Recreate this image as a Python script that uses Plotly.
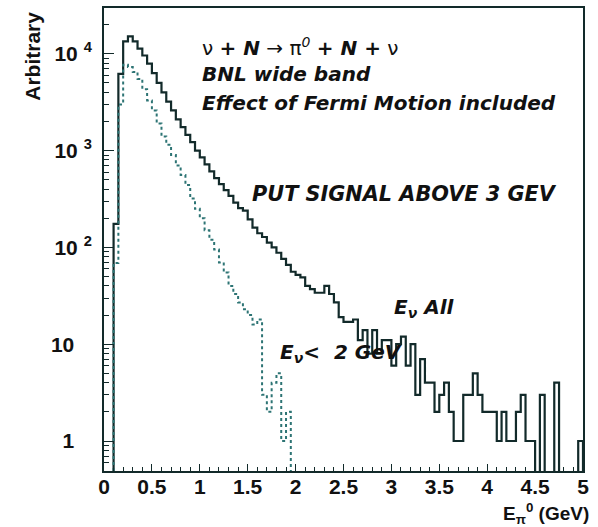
import numpy as np
import plotly.graph_objects as go

# Histogram binning (GeV): 0.05 GeV bins starting at 0.10 GeV
BIN_WIDTH = 0.05
FIRST_EDGE = 0.10

# Entries per bin, all neutrino energies
counts_all = [
    175, 6200, 13400, 15100, 13400, 11300, 9600, 7900, 6300, 5000,
    4000, 3200, 2600, 2100, 1750, 1450, 1220, 1000, 850, 720,
    610, 520, 450, 390, 340, 290, 255, 240, 195, 160,
    140, 128, 112, 100, 88, 76, 66, 56, 52, 49,
    40, 37, 34, 34, 40, 33, 27, 19, 17, 17,
    18, 11, 14, 8, 14, 8, 11, 11, 6, 10,
    12, 6, 10, 3, 7, 4, 4, 2, 3, 4,
    2, 1, 1, 3, 3, 5, 3, 2, 2, 2,
    1, 2, 1, 1, 2, 3, 1, 1, 0, 3,
    0, 0, 4, 0, 0, 0, 0, 1,
]

# Entries per bin, neutrino energy below 2 GeV
counts_low = [
    69, 3000, 7700, 7300, 6500, 5500, 4300, 3300, 2600, 1900,
    1400, 1150, 900, 700, 560, 440, 320, 250, 200, 150,
    120, 95, 70, 55, 40, 33, 27, 23, 20, 16,
    18, 3, 2, 4, 5, 1, 2,
]

x_tick_values = [0, 0.5, 1, 1.5, 2, 2.5, 3, 3.5, 4, 4.5, 5]
x_tick_labels = ["0", "0.5", "1", "1.5", "2", "2.5", "3", "3.5", "4", "4.5", "5"]
y_tick_values = [1, 10, 100, 1000, 10000]
NB = "\u00a0"
y_tick_labels = ["1" + NB * 3, "10" + NB * 3, "10 <sup>2</sup>", "10 <sup>3</sup>", "10 <sup>4</sup>"]

# Drawing constants
BASE = 0.05          # level used for empty bins (below the visible range)
INK = "#122a2a"
DOT_INK = "#2d7474"
W, H = 598, 527
ML, MR, MT, MB = 104, 15, 6, 56


def step_outline(counts):
    """Return x/y arrays of a histogram outline for an 'hv' line."""
    n = len(counts)
    edges = FIRST_EDGE + BIN_WIDTH * np.arange(n + 1)
    vals = [c if c > 0 else BASE for c in counts]
    xs = [edges[0]] + list(edges[:n]) + [edges[n], edges[n]]
    ys = [BASE] + vals + [vals[-1], BASE]
    return xs, ys


def paper_x(px):
    return (px - ML) / (W - ML - MR)


def paper_y(py):
    return (H - MB - py) / (H - MT - MB)


fig = go.Figure()

xa, ya = step_outline(counts_all)
fig.add_trace(go.Scatter(x=xa, y=ya, mode="lines", line_shape="hv",
                         line=dict(color=INK, width=2.2), hoverinfo="skip"))

xl, yl = step_outline(counts_low)
fig.add_trace(go.Scatter(x=xl, y=yl, mode="lines", line_shape="hv",
                         line=dict(color=DOT_INK, width=2, dash="dot"), hoverinfo="skip"))

minor_y = [m * 10 ** k for k in range(-1, 5) for m in range(2, 10)]

tick_font = dict(family="Liberation Sans", size=21, color="#111", weight="bold")

fig.update_xaxes(
    range=[0, 5], tickmode="array", tickvals=x_tick_values, ticktext=x_tick_labels,
    ticks="inside", ticklen=7, tickwidth=1.2, tickcolor=INK,
    minor=dict(dtick=0.1, tick0=0, ticks="inside", ticklen=4, tickwidth=1, tickcolor=INK),
    showline=True, linecolor=INK, linewidth=2, mirror=True,
    showgrid=False, zeroline=False, tickfont=tick_font, ticklabelstandoff=-4,
)
fig.update_yaxes(
    type="log", range=[np.log10(0.49), np.log10(29700)],
    tickmode="array", tickvals=y_tick_values, ticktext=y_tick_labels,
    ticks="inside", ticklen=10, tickwidth=1.2, tickcolor=INK,
    minor=dict(tickmode="array", tickvals=minor_y, ticks="inside", ticklen=5,
               tickwidth=1, tickcolor=INK),
    showline=True, linecolor=INK, linewidth=2, mirror=True,
    showgrid=False, zeroline=False, tickfont=tick_font, ticklabelstandoff=6,
)

txt_font = dict(family="DejaVu Sans", size=20, color="#111")

notes = [
    ("ν <b><i>+ N</i></b> → π<sup><i>0</i></sup> <b><i>+ N +</i></b> ν", 200, 45, 20),
    ("<b><i>BNL wide band</i></b>", 200, 72, 20),
    ("<b><i>Effect of Fermi Motion included</i></b>", 200, 101, 20),
    ("<b><i>PUT SIGNAL ABOVE 3 GEV</i></b>", 250, 193, 20.8),
    ("<b><i>E<sub>ν</sub> All</i></b>", 392, 307, 20),
    ("<b><i>E<sub>ν</sub>&lt;  2 GeV</i></b>", 278, 352, 20),
]
for text, px, py, size in notes:
    fig.add_annotation(text=text, xref="paper", yref="paper",
                       x=paper_x(px), y=paper_y(py), xanchor="left", yanchor="middle",
                       showarrow=False, font=dict(txt_font, size=size))

fig.add_annotation(text="<b>Arbitrary</b>", xref="paper", yref="paper",
                   x=paper_x(33), y=paper_y(55), textangle=-90,
                   xanchor="center", yanchor="middle", showarrow=False,
                   font=dict(family="Liberation Sans", size=21, color="#111"))

fig.add_annotation(text="<b>E<sub>π</sub><sup>0</sup> (GeV)</b>", xref="paper", yref="paper",
                   x=paper_x(591), y=paper_y(514), xanchor="right", yanchor="middle",
                   showarrow=False,
                   font=dict(family="Liberation Sans", size=19, color="#111"))

fig.update_layout(
    width=W, height=H,
    margin=dict(l=ML, r=MR, t=MT, b=MB),
    paper_bgcolor="white", plot_bgcolor="white",
    showlegend=False,
)

fig.write_html("out.html")
